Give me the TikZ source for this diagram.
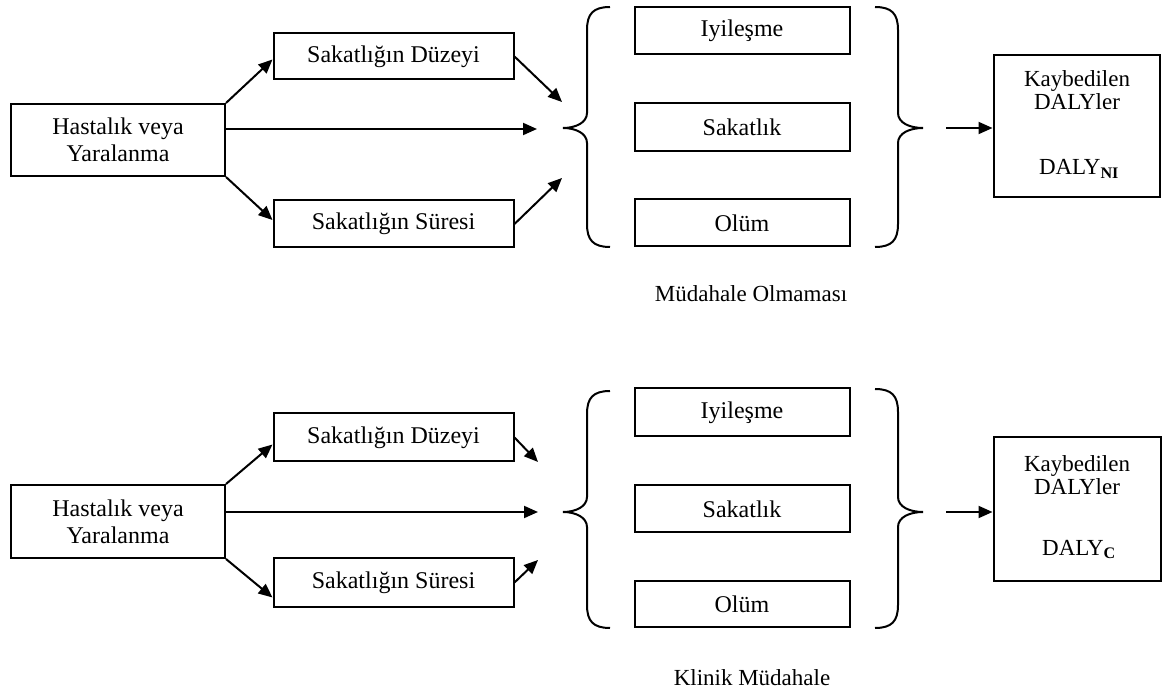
\documentclass[tikz,border=0pt]{standalone}
\usepackage{fontspec}
\setmainfont{Liberation Serif}
\usetikzlibrary{arrows.meta}
\begin{document}
\begin{tikzpicture}[x=1pt,y=-1pt,
  box/.style={draw, line width=2pt, inner sep=0pt, align=center, font=\fontsize{24}{27}\selectfont},
  conn/.style={line width=2pt, -{Triangle[length=14pt,width=12pt]}},
  brc/.style={line width=2pt},
  txt/.style={font=\fontsize{23}{26}\selectfont, inner sep=0pt},
  captxt/.style={font=\fontsize{23}{26}\selectfont, inner sep=0pt, anchor=base}]
\useasboundingbox (0,0) rectangle (1163,692);

% ---------------- Top diagram ----------------
\node[box, minimum width=214pt, minimum height=72pt] (H1) at (118,140) {Hastalık veya\\Yaralanma};
\node[box, minimum width=240pt, minimum height=46pt] (D1) at (393.5,56.5) {Sakatlığın Düzeyi};
\node[box, minimum width=240pt, minimum height=47pt] (S1) at (393.5,224) {Sakatlığın Süresi};
\node[box, minimum width=215pt, minimum height=47pt] (I1) at (742,31) {Iyileşme};
\node[box, minimum width=215pt, minimum height=48pt] (K1) at (742,127.5) {Sakatlık};
\node[box, minimum width=215pt, minimum height=47pt] (O1) at (742,223) {Olüm};
\node[box, minimum width=166pt, minimum height=142pt] (L1) at (1076.5,126.5) {};
\node[txt, anchor=base] (L1a) at (1077,87) {Kaybedilen};
\node[txt, anchor=base] (L1b) at (1077,110) {DALYler};
\node[txt, anchor=base] (L1c) at (1079,175) {DALY\textsubscript{\textbf{NI}}};
\node[captxt] (C1) at (751,302) {Müdahale Olmaması};

\coordinate (m1) at (537,129);
\coordinate (a1) at (562,102);
\coordinate (b1) at (562,178);
\coordinate (r1) at (946,128);

\draw[conn] (H1.north east) -- ([yshift=-3pt]D1.west);
\draw[conn] (H1.south east) -- ([yshift=4pt]S1.west);
\draw[conn] (H1.east |- m1) -- (m1);
\draw[conn] (D1.east) -- (a1);
\draw[conn] (S1.east) -- (b1);
\draw[conn] (r1) -- (L1.west |- r1);

\draw[brc] (610,7) .. controls (593,7) and (587,14) .. (587,30) -- (587,113)
  .. controls (587,123) and (575,128) .. (563,128)
  .. controls (575,128) and (587,133) .. (587,143) -- (587,224)
  .. controls (587,240) and (593,247) .. (610,247);
\draw[brc] (875,7) .. controls (892,7) and (898,14) .. (898,30) -- (898,113)
  .. controls (898,123) and (910,128) .. (923,128)
  .. controls (910,128) and (898,133) .. (898,143) -- (898,224)
  .. controls (898,240) and (892,247) .. (875,247);

% ---------------- Bottom diagram ----------------
\node[box, minimum width=214pt, minimum height=73pt] (H2) at (118,521.5) {Hastalık veya\\Yaralanma};
\node[box, minimum width=240pt, minimum height=48pt] (D2) at (393.5,437.5) {Sakatlığın Düzeyi};
\node[box, minimum width=240pt, minimum height=48pt] (S2) at (393.5,582.5) {Sakatlığın Süresi};
\node[box, minimum width=215pt, minimum height=48pt] (I2) at (742,412.5) {Iyileşme};
\node[box, minimum width=215pt, minimum height=47pt] (K2) at (742,509) {Sakatlık};
\node[box, minimum width=215pt, minimum height=46pt] (O2) at (742,604) {Olüm};
\node[box, minimum width=167pt, minimum height=144pt] (L2) at (1077,509.5) {};
\node[txt, anchor=base] (L2a) at (1077,472) {Kaybedilen};
\node[txt, anchor=base] (L2b) at (1077,495) {DALYler};
\node[txt, anchor=base] (L2c) at (1079,555) {DALY\textsubscript{\textbf{C}}};
\node[captxt] (C2) at (752,685) {Klinik Müdahale};

\coordinate (m2) at (538,512);
\coordinate (a2) at (538,462);
\coordinate (b2) at (538,560);
\coordinate (r2) at (946,512);

\draw[conn] (H2.north east) -- ([yshift=-7pt]D2.west);
\draw[conn] (H2.south east) -- ([yshift=-15pt]S2.west);
\draw[conn] (H2.east |- m2) -- (m2);
\draw[conn] (D2.east) -- (a2);
\draw[conn] (S2.east) -- (b2);
\draw[conn] (r2) -- (L2.west |- r2);

\draw[brc] (610,391) .. controls (593,391) and (587,398) .. (587,414) -- (587,497)
  .. controls (587,507) and (575,512) .. (563,512)
  .. controls (575,512) and (587,517) .. (587,527) -- (587,605)
  .. controls (587,621) and (593,628) .. (610,628);
\draw[brc] (875,389) .. controls (892,389) and (898,396) .. (898,412) -- (898,497)
  .. controls (898,507) and (910,512) .. (923,512)
  .. controls (910,512) and (898,517) .. (898,527) -- (898,605)
  .. controls (898,621) and (892,628) .. (875,628);
\end{tikzpicture}
\end{document}
